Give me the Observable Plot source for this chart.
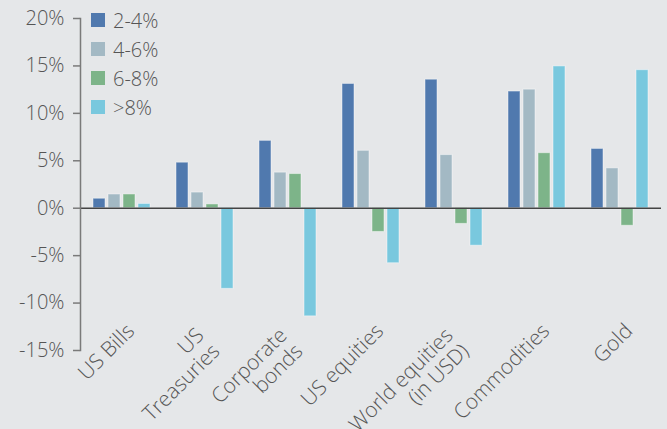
<!DOCTYPE html>
<html>
<head>
<meta charset="utf-8">
<script src="https://cdn.jsdelivr.net/npm/d3@7"></script>
<script src="https://cdn.jsdelivr.net/npm/@observablehq/plot@0.6"></script>
<style>
  html, body { margin: 0; padding: 0; background: #e5e7e9; }
  #wrap { position: relative; width: 667px; height: 429px; font-family: "Open Sans", Lato, sans-serif; font-weight: 300; }
  #legend { position: absolute; left: 91px; top: 13px; color: #555; font-size: 20px; }
  #legend .row { display: flex; align-items: center; height: 14px; margin-bottom: 15px; }
  #legend .sw { width: 14px; height: 14px; margin-right: 8px; }
</style>
</head>
<body>
<div id="wrap"><div id="legend"></div></div>
<script>
const categories = ["US Bills", "US Treasuries", "Corporate bonds", "US equities", "World equities (in USD)", "Commodities", "Gold"];
const categoryLabels = ["US Bills", "US\nTreasuries", "Corporate\nbonds", "US equities", "World equities\n(in USD)", "Commodities", "Gold"];
const series = ["2-4%", "4-6%", "6-8%", ">8%"];
const colors = ["#5079ae", "#a3b9c4", "#7db489", "#79c8de"];
const values_2_4 = [1.0, 4.8, 7.1, 13.1, 13.55, 12.3, 6.25];
const values_4_6 = [1.45, 1.65, 3.75, 6.05, 5.6, 12.5, 4.2];
const values_6_8 = [1.45, 0.4, 3.6, -2.5, -1.65, 5.8, -1.85];
const values_8 = [0.45, -8.5, -11.4, -5.8, -3.95, 14.95, 14.55];
const yTicks = [-15, -10, -5, 0, 5, 10, 15, 20];

const seriesValues = [values_2_4, values_4_6, values_6_8, values_8];
const data = [];
categories.forEach((c, i) => series.forEach((s, j) => data.push({category: c, series: s, value: seriesValues[j][i]})));
const labels = categories.map((c, i) => ({category: c, label: categoryLabels[i], multi: categoryLabels[i].includes("\n")}));

const chart = Plot.plot({
  width: 667,
  height: 429,
  marginLeft: 79,
  marginRight: 6,
  marginTop: 18,
  marginBottom: 79,
  style: {background: "#e5e7e9", fontFamily: "'Open Sans', Lato, sans-serif", fontSize: "20px", fontWeight: 300, color: "#555"},
  fx: {domain: categories, padding: 0, axis: null, label: null},
  x: {domain: series, paddingInner: 0.2, paddingOuter: 0.8, axis: null},
  y: {domain: [-15, 20], axis: null},
  color: {domain: series, range: colors},
  marks: [
    Plot.barY(data, {fx: "category", x: "series", y: "value", fill: "series", stroke: "white", strokeOpacity: 0.45, strokeWidth: 1}),
    Plot.ruleY([0], {stroke: "#444", strokeWidth: 1.5}),
    Plot.frame({anchor: "left", facetAnchor: "left", stroke: "#7a7a7a", strokeWidth: 1.5}),
    Plot.axisY({ticks: yTicks, tickFormat: d => d + "%", tickSize: 7, tickPadding: 9, fontSize: 20, stroke: "#7a7a7a", fill: "#555", label: null, strokeWidth: 1.5}),
    Plot.text(labels.filter(d => !d.multi), {fx: "category", text: "label", frameAnchor: "bottom", rotate: -45, textAnchor: "end", lineAnchor: "middle", dx: 9, dy: -23, fontSize: 21, fill: "#555"}),
    Plot.text(labels.filter(d => d.multi), {fx: "category", text: "label", frameAnchor: "bottom", rotate: -45, textAnchor: "end", lineAnchor: "middle", lineHeight: 1.07, dx: 3, dy: -11, fontSize: 21, fill: "#555"})
  ]
});
document.getElementById("wrap").prepend(chart);
chart.style.display = "block";

const legend = document.getElementById("legend");
series.forEach((s, j) => {
  const row = document.createElement("div");
  row.className = "row";
  const sw = document.createElement("div");
  sw.className = "sw";
  sw.style.background = colors[j];
  const t = document.createElement("span");
  t.textContent = s;
  row.appendChild(sw);
  row.appendChild(t);
  legend.appendChild(row);
});
</script>
</body>
</html>
